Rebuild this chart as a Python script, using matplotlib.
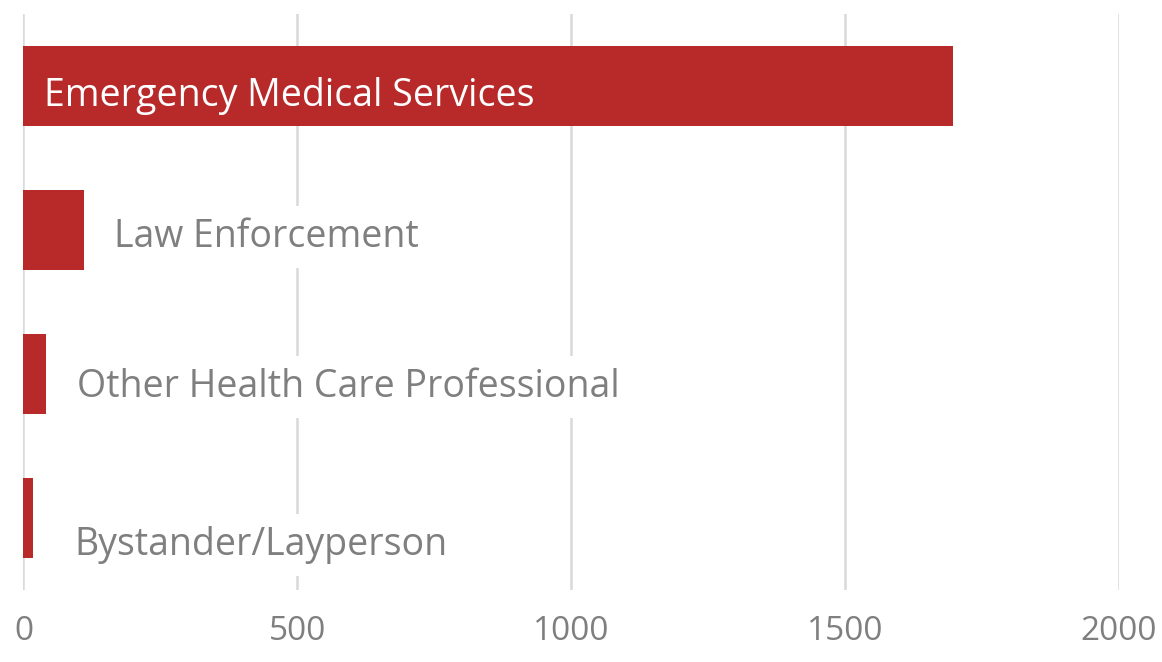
import matplotlib.pyplot as plt

plt.rcParams["font.family"] = ["Open Sans", "DejaVu Sans"]

categories = [
    "Emergency Medical Services",
    "Law Enforcement",
    "Other Health Care Professional",
    "Bystander/Layperson",
]
counts = [1697, 111, 42, 18]
x_ticks = [0, 500, 1000, 1500, 2000]

BAR_COLOR = "#B8292A"
TEXT_GRAY = "#7F7F7F"
GRID_GRAY = "#D9D9D9"

# label placement (pixels from bar end / bar centre)
label_dx = [None, 30, 31, 41]
label_dy = [-20, -17, -23, -37]

fig = plt.figure(figsize=(11.62, 6.62), dpi=100)
ax = fig.add_axes([0.0202, 0.1088, 0.963 - 0.0202, 0.9789 - 0.1088])

ypos = list(range(len(categories)))
ax.barh(ypos, counts, height=0.556, color=BAR_COLOR, zorder=2)

ax.set_xlim(0, 2000)
ax.set_ylim(3.5, -0.5)
ax.set_xticks(x_ticks)
ax.set_xticklabels([str(t) for t in x_ticks], fontsize=24, color=TEXT_GRAY)
ax.set_yticks([])
ax.tick_params(axis="x", length=0, pad=18)
ax.xaxis.grid(True, color=GRID_GRAY, linewidth=1.8, zorder=0)
for s in ax.spines.values():
    s.set_visible(False)

for i, (cat, val) in enumerate(zip(categories, counts)):
    if i == 0:
        ax.annotate(cat, xy=(0, i), xytext=(21, label_dy[i]),
                    textcoords="offset pixels", color="white", fontsize=27,
                    ha="left", va="baseline", zorder=3)
    else:
        ax.annotate(cat, xy=(val, i), xytext=(label_dx[i], label_dy[i]),
                    textcoords="offset pixels", color=TEXT_GRAY, fontsize=27,
                    ha="left", va="baseline", zorder=3,
                    bbox=dict(facecolor="white", edgecolor="none", pad=9))

fig.savefig("out.png", dpi=100)
